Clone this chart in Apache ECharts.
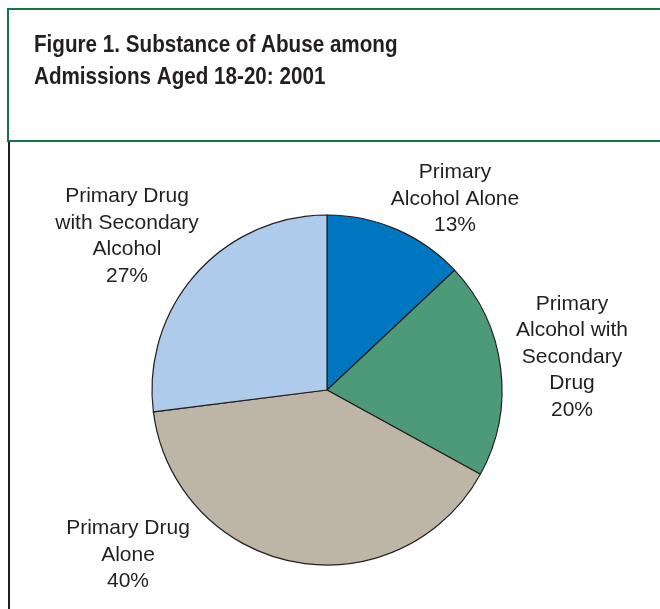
<!DOCTYPE html>
<html>
<head>
<meta charset="utf-8">
<script src="https://cdn.jsdelivr.net/npm/echarts@6/dist/echarts.min.js"></script>
<style>
  html, body { margin: 0; padding: 0; background: #fff; }
  #box { width: 660px; height: 609px; }
</style>
</head>
<body>
<div id="box"></div>
<script>
var categories = [
  "Primary\nAlcohol Alone",
  "Primary\nAlcohol with\nSecondary\nDrug",
  "Primary Drug\nAlone",
  "Primary Drug\nwith Secondary\nAlcohol",
];
var percents = [13, 20, 40, 27];
var colors = ["#0077c0", "#4d9a78", "#bdb6a6", "#afcbeb"];

// where each label block is centred
var labelSpots = [
  [455, 199],
  [572, 357],
  [128, 555],
  [127, 236],
];

var chart = echarts.init(document.getElementById("box"));

var pieData = [];
for (let i = 0; i < categories.length; i++) {
  pieData.push({
    name: categories[i],
    value: percents[i],
    itemStyle: { color: colors[i] },
  });
}

var option = {
  backgroundColor: "#fff",
  animation: false,
  graphic: [
    // green title box
    {
      type: "polyline",
      shape: { points: [[700, 9], [8, 9], [8, 141], [700, 141]] },
      style: { stroke: "#17744a", lineWidth: 2, fill: null },
    },
    {
      type: "line",
      shape: { x1: 9, y1: 142, x2: 9, y2: 609 },
      style: { stroke: "#231f20", lineWidth: 2 },
    },
    {
      type: "text",
      x: 34,
      y: 29,
      scaleX: 0.86,
      style: {
        text: "Figure 1. Substance of Abuse among\nAdmissions Aged 18-20: 2001",
        font: "bold 24px 'Liberation Sans', Arial, sans-serif",
        lineHeight: 32,
        fill: "#231f20",
      },
    },
  ],
  series: [
    {
      type: "pie",
      center: [327, 390],
      radius: 175,
      startAngle: 90,
      clockwise: true,
      data: pieData,
      itemStyle: { borderColor: "#231f20", borderWidth: 1.2 },
      label: {
        show: true,
        position: "outside",
        formatter: "{b}\n{d}%",
        color: "#231f20",
        fontSize: 21,
        lineHeight: 26.5,
        fontFamily: "'Liberation Sans', Arial, sans-serif",
        align: "center",
        overflow: "none",
        width: 200,
      },
      labelLine: { show: false },
      labelLayout: function (params) {
        var p = labelSpots[params.dataIndex];
        return { x: p[0], y: p[1], align: "center", verticalAlign: "middle" };
      },
      emphasis: { disabled: true },
    },
  ],
};
chart.setOption(option);
</script>
</body>
</html>
